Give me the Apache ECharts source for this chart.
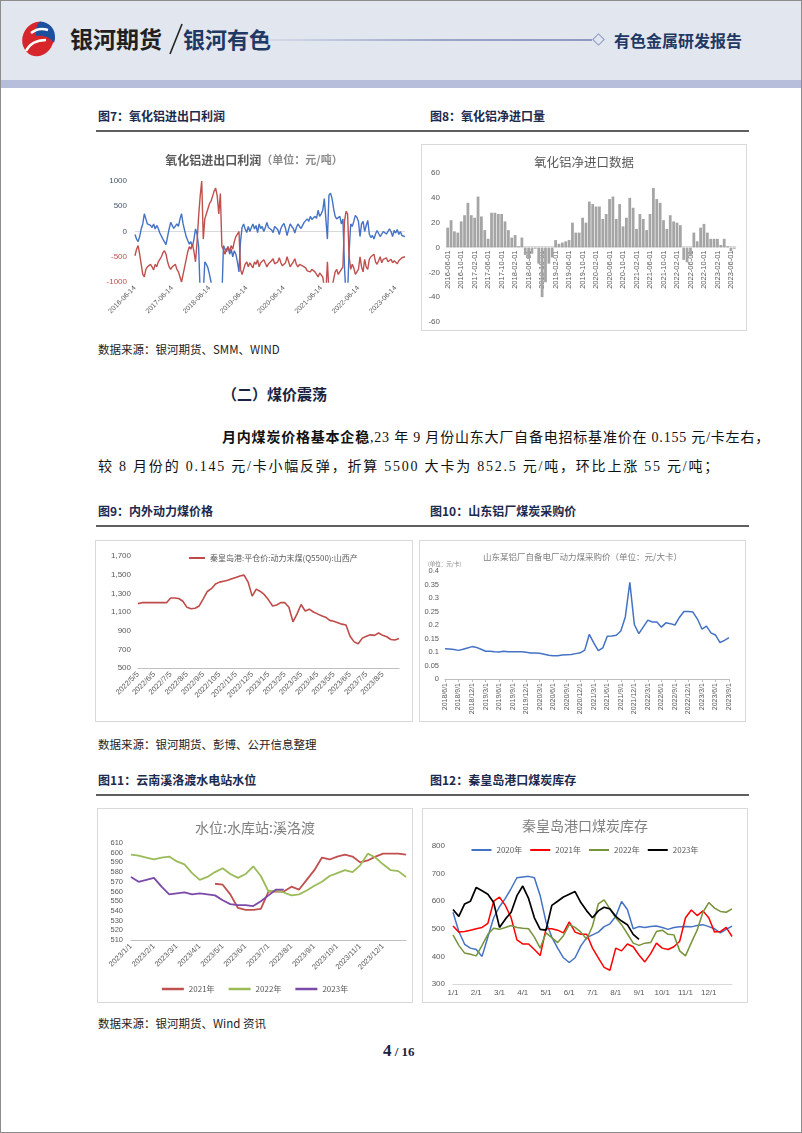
<!DOCTYPE html>
<html><head><meta charset="utf-8">
<script src="https://cdn.jsdelivr.net/npm/echarts@6/dist/echarts.min.js"></script>
<style>
html,body{margin:0;padding:0;background:#fff;}
#page{position:relative;width:802px;height:1133px;overflow:hidden;font-family:"Noto Sans CJK SC","Noto Sans",sans-serif;background:#fff;}
.abs{position:absolute;white-space:nowrap;}
.figt{font-size:12px;font-weight:bold;color:#1c2a4d;line-height:14px;}
.rule{position:absolute;left:96px;width:653px;height:2px;background:#5f5f5f;}
.src{font-size:11.5px;color:#222;line-height:14px;}
.ch{position:absolute;box-sizing:border-box;}
.bx{border:1px solid #d9d9d9;}
.para{font-family:"Liberation Serif","Noto Sans CJK SC",serif;font-size:14px;color:#111;line-height:18px;}
</style></head>
<body>
<div id="page">
  <!-- header -->
  <div class="abs" style="left:0;top:0;width:802px;height:80px;background:#e2e6ef;"></div>
  <div class="abs" style="left:0;top:80px;width:802px;height:8px;background:#b7bedc;"></div>
  <svg class="abs" style="left:18px;top:19px;" width="40" height="40" viewBox="0 0 40 40">
    <ellipse cx="20" cy="20" rx="15.5" ry="17.5" transform="rotate(22 20 20)" fill="#d6262b"/>
    <path d="M22 2.6 C31 3 38 10 37 20 L36 24 C32 18 26 16 18 17 C17 11 18.5 6 22 2.6 Z" fill="#1d4f9f"/>
    <path d="M8 32 C12 24 19 21 28 21 M13 14 C18 10 24 9 30 11" stroke="#fff" stroke-width="2.4" fill="none"/>
  </svg>
  <div class="abs" style="left:70px;top:22px;font-size:23px;font-weight:bold;color:#231f20;line-height:32px;">银河期货</div>
  <svg class="abs" style="left:168px;top:22px;" width="16" height="34"><line x1="2" y1="32" x2="14" y2="2" stroke="#222" stroke-width="1.6"/></svg>
  <div class="abs" style="left:183px;top:22px;font-size:22px;font-weight:bold;color:#1f3864;line-height:32px;">银河有色</div>
  <div class="abs" style="left:230px;top:39px;width:362px;height:2px;background:linear-gradient(90deg,rgba(150,160,200,0),#9aa4c9 60%,#8f99c2);"></div>
  <div class="abs" style="left:594px;top:35px;width:7px;height:7px;border:1px solid #8d97c0;transform:rotate(45deg);background:#e2e6ef;"></div>
  <div class="abs" style="left:614px;top:29px;font-size:16px;font-weight:bold;color:#1f3864;line-height:22px;">有色金属研发报告</div>

  <!-- row 1 -->
  <div class="abs figt" style="left:98px;top:109px;">图7：氧化铝进出口利润</div>
  <div class="abs figt" style="left:430px;top:109px;">图8：氧化铝净进口量</div>
  <div class="rule" style="top:130px;"></div>
  <div id="c7" class="ch" style="left:95px;top:140px;width:318px;height:200px;"></div>
  <div id="c8" class="ch bx" style="left:421px;top:144px;width:326px;height:187px;"></div>
  <div class="abs src" style="left:98px;top:342px;">数据来源：银河期货、SMM、WIND</div>

  <div class="abs" style="left:222px;top:384px;font-size:15px;font-weight:bold;color:#1a2340;line-height:20px;">（二）煤价震荡</div>
  <div class="abs para" data-w="548" style="left:222px;top:429px;"><b>月内煤炭价格基本企稳</b>,23 年 9 月份山东大厂自备电招标基准价在 0.155 元/卡左右，</div>
  <div class="abs para" data-w="622" style="left:98px;top:458px;">较 8 月份的 0.145 元/卡小幅反弹，折算 5500 大卡为 852.5 元/吨，环比上涨 55 元/吨；</div>

  <!-- row 2 -->
  <div class="abs figt" style="left:98px;top:504px;">图9：内外动力煤价格</div>
  <div class="abs figt" style="left:430px;top:504px;">图10：山东铝厂煤炭采购价</div>
  <div class="rule" style="top:525px;"></div>
  <div id="c9" class="ch bx" style="left:95px;top:540px;width:318px;height:182px;"></div>
  <div id="c10" class="ch bx" style="left:419px;top:540px;width:327px;height:182px;"></div>
  <div class="abs src" style="left:98px;top:737px;">数据来源：银河期货、彭博、公开信息整理</div>

  <!-- row 3 -->
  <div class="abs figt" style="left:98px;top:773px;">图11：云南溪洛渡水电站水位</div>
  <div class="abs figt" style="left:430px;top:773px;">图12：秦皇岛港口煤炭库存</div>
  <div class="rule" style="top:794px;"></div>
  <div id="c11" class="ch bx" style="left:97px;top:808px;width:316px;height:195px;"></div>
  <div id="c12" class="ch bx" style="left:422px;top:808px;width:326px;height:195px;"></div>
  <div class="abs src" style="left:98px;top:1016px;">数据来源：银河期货、Wind 资讯</div>

  <div class="abs" style="left:383px;top:1041px;font-family:'Liberation Serif',serif;font-weight:bold;color:#1a2340;line-height:20px;"><span style="font-size:17px;">4</span><span style="font-size:13px;"> / 16</span></div>
  <div class="abs" style="left:0;top:0;width:802px;height:1133px;box-sizing:border-box;border:1px solid #8c8c8c;pointer-events:none;"></div>
</div>
<script>
// ---------- DATA ----------
// Fig 7: alumina import/export profit, semi-monthly from 2016-06-14
const c7Blue = [
 -60,
 -150,-200, -100,50, 150,350, 250,150, 180,120, 80,150,
 50,120, 60,-30, -50,-150, -120,-260, -100,50, 180,120, 60,30, 150,100, 250,350, 150,20, -100,-180, -250,-200,
 -300,-150, 50,-50, -300,-1200, -1300,-1200, -600,-650, -720,-850, -1000,-1300, -1300,-1300, -1300,-1300, -1300,-1300, -280,-350, -400,-300,
 -450,-350, -500,-380, -450,-600, -800,-200, 80,150, 50,-20, 100,0, 80,150, 50,120, -20,150, 60,100, 0,80,
 180,80, 100,30, -20,100, 120,40, -60,60, 120,160, 60,-80, 40,150, 100,60, -30,80, 150,100, 60,120,
 180,150, 250,200, 300,240, 220,300, 260,420, 300,350, 420,650, 680,-150, 720,760, 650,450, 300,250, 220,300,
 150,250, -700,-1300, -1200,-400, 150,100, 200,320, 280,200, -100,150, 200,0, 120,220, -50,-120, -80,-150, -50,20,
 0,-100, -80,0, 30,-50, -80,50, 0,-100, 20,-30, 40,-60, 0,-80, -60,-100
];
const c7Red = [
 -480,
 -350,-280, -450,-650, -850,-900, -750,-700, -720,-650, -700,-760,
 -650,-700, -600,-550, -500,-420, -380,-450, -600,-700, -750,-700, -680,-650, -750,-800, -900,-1000, -850,-700, -550,-400, -300,-350,
 -250,-400, -600,-200, 300,700, 1000,-150, 250,350, 450,550, 600,700, 800,860, 700,350, 750,-300, -350,-450, -350,-300,
 -400,-280, -350,-200, -100,-50, 0,-750, -850,-750, -650,-600, -700,-620, -650,-720, -600,-650, -560,-700, -620,-650, -560,-630,
 -700,-640, -620,-580, -540,-640, -660,-600, -520,-620, -680,-700, -620,-500, -600,-700, -650,-600, -540,-650, -700,-650, -620,-680,
 -700,-720, -780,-760, -800,-750, -720,-800, -780,-900, -820,-850, -900,-1100, -1200,-600, -1200,-1200, -1100,-950, -800,-750, -850,-800,
 -750,-700, 200,400, 350,-500, -750,-650, -720,-850, -800,-750, -500,-700, -800,-550, -700,-750, -550,-500, -520,-450, -600,-650,
 -580,-500, -620,-550, -580,-520, -600,-620, -550,-620, -580,-560, -640,-580, -560,-520, -520,-500
];
const c7Ticks = [-1000, -500, 0, 500, 1000];

// Fig 8: alumina net imports, monthly 2016-06 .. 2023-07
const c8Values = [
 16,22,13,12,21,26,36,
 26,24,41,25,14,7,28,28,27,27,21,14,
 8,10,1,8,-6,-9,-5,-1,-13,-40,-28,-13,
 -8,6,3,4,5,6,20,12,12,24,20,37,
 35,33,33,23,27,39,41,23,35,17,24,40,
 32,15,27,23,14,27,48,39,36,22,15,26,
 21,20,18,-10,-12,-7,12,5,16,19,12,7,
 7,7,2,7,1,-3,-1
];

// Fig 9: Qinhuangdao Q5500 price, weekly from 2022/5/5
const c9Values = [
 1190,1200,1200,1200, 1200,1200,1200,1200, 1250,1250,1245,1215, 1150,1135,1140,1165,
 1240,1320,1350,1400, 1420,1430,1440,1455, 1470,1485,1495,1420, 1270,1345,1320,1285,
 1230,1165,1175,1200, 1200,1150,995,1080, 1180,1110,1130,1100, 1080,1060,1045,1010,
 1000,985,970,960, 840,780,760,820, 840,855,850,875, 850,835,805,800, 815
];

// Fig 10: Shandong smelter coal price (元/大卡), monthly 2018/6 .. 2023/9
const c10Values = [
 0.112,0.111,0.109,0.106,0.110,0.115,0.120,
 0.117,0.110,0.103,0.103,0.101,0.100,0.103,0.101,0.101,0.101,0.101,0.099,
 0.096,0.096,0.095,0.092,0.088,0.086,0.086,0.089,0.090,0.091,0.094,0.097,
 0.107,0.165,0.134,0.105,0.115,0.158,0.159,0.162,0.178,0.230,0.358,0.202,
 0.168,0.193,0.218,0.211,0.211,0.192,0.208,0.205,0.200,0.228,0.250,0.250,
 0.248,0.222,0.185,0.196,0.171,0.163,0.135,0.143,0.153
];

// Fig 11: Xiluodu water level, every ~10 days (1st, 11th, 21st) + year end
const c11Y2021 = [null,null,null,null,null,null,null,null,null,null,null,
 568,567,557,543,541,541,542,560,560,560,565,562,572,582,595,593,596,598,596,590,592,596,599,599,599,598];
const c11Y2022 = [598,597,595,593,595,596,591,588,579,572,575,580,584,578,574,578,586,576,560,561,559,556,557,561,566,570,576,579,582,580,587,599,595,588,582,581,575];
const c11Y2023 = [575,570,572,574,565,557,558,559,557,558,557,556,551,547,546,546,545,550,556,562,562,
 null,null,null,null,null,null,null,null,null,null,null,null,null,null,null,null];

// Fig 12: Qinhuangdao port coal stocks, 4 points per month + year end
const c12Y2020 = [560,490,444,430,425,400,470,540,580,610, 646,685,688,690,685,620,525,470,430,395,
 378,395,438,468,478,488,508,518,545,599, 570,500,508,505,508,510,505,498,505,507, 508,507,512,515,508,500,485,498,510];
const c12Y2021 = [510,488,490,495,500,505,520,600,615,585, 540,460,445,445,425,403,500,500,495,485,
 525,488,480,480,430,395,360,350,430,420, 445,435,405,380,410,448,430,425,435,455, 540,568,548,565,540,488,490,505,472];
const c12Y2022 = [478,440,412,408,402,440,480,502,498,505, 512,505,502,500,470,430,485,468,450,475,
 515,505,488,462,510,590,605,572,540,515, 482,448,440,448,450,490,495,480,478,420, 402,450,495,560,595,575,563,560,572];
const c12Y2023 = [570,545,590,600,650,638,625,595,505,535, 560,620,655,610,540,498,495,585,600,615,
 625,635,595,565,540,565,578,572,545,528, 515,480,462, null,null,null,null,null,null,null,null,null,null,null,null,null,null,null,null];

// ---------- categories ----------
function c7Categories(){ const d=['2016-06-14']; let y=2016,m=7; while(!(y===2023&&m===10)){ const mm=String(m).padStart(2,'0'); d.push(y+'-'+mm+'-01', y+'-'+mm+'-14'); m++; if(m>12){m=1;y++;} } return d; }
function monthly(y0,m0,y1,m1,fmt){ const d=[]; let y=y0,m=m0; while(y<y1||(y===y1&&m<=m1)){ d.push(fmt(y,m)); m++; if(m>12){m=1;y++;} } return d; }
const c7Dates = c7Categories();
const c8Months = monthly(2016,6,2023,7,(y,m)=>y+'-'+String(m).padStart(2,'0')+'-01');
const c9Dates = (function(){ const d=[]; monthly(2022,5,2023,8,(y,m)=>y+'/'+m).forEach(p=>{[5,12,19,26].forEach(dd=>d.push(p+'/'+dd));}); d.push('2023/9/5'); return d; })();
const c10Months = monthly(2018,6,2023,9,(y,m)=>y+'/'+m+'/1');
const c11Dates = (function(){ const d=[]; for(let m=1;m<=12;m++){[1,11,21].forEach(dd=>d.push('2023/'+m+'/'+dd));} d.push('2023/12/31'); return d; })();
const c12Dates = (function(){ const d=[]; for(let m=1;m<=12;m++){[1,8,16,23].forEach(dd=>d.push(m+'/'+dd));} d.push('12/31'); return d; })();

// ---------- paragraph fitting ----------
document.querySelectorAll('.para').forEach(el=>{
  const target = +el.dataset.w;
  const w = el.getBoundingClientRect().width;
  const n = el.textContent.length;
  el.style.letterSpacing = ((target - w) / n).toFixed(3) + 'px';
});

// ---------- charts ----------
const NUM = "'Liberation Sans','Noto Sans CJK SC',sans-serif";
const CJK = "'Noto Sans CJK SC',sans-serif";
const GRAY = '#595959';
function mk(id, opt){ const c = echarts.init(document.getElementById(id), null, {renderer:'canvas'}); opt.animation=false; opt.grid.outerBoundsMode='none'; c.setOption(opt); }
function lineS(name, data, color, w){ return {name:name,type:'line',data:data,showSymbol:false,symbol:'none',lineStyle:{color:color,width:w},itemStyle:{color:color},connectNulls:false}; }

mk('c7', {
  title:{text:'{a|氧化铝进出口利润}{b|（单位：元/吨）}',left:'center',top:9,textStyle:{rich:{a:{fontSize:12,color:GRAY,fontFamily:CJK},b:{fontSize:11,color:'#8c8c8c',fontFamily:CJK}}}},
  grid:{left:40,right:8,top:41,bottom:58},
  xAxis:{type:'category',data:c7Dates,boundaryGap:false,axisLine:{show:false},axisTick:{show:false},
    axisLabel:{rotate:45,fontSize:7,color:GRAY,fontFamily:NUM,margin:5,interval:(i,v)=>v.slice(5)==='06-14'}},
  yAxis:{type:'value',min:c7Ticks[0],max:c7Ticks[c7Ticks.length-1],interval:500,axisLine:{show:false},axisTick:{show:false},
    splitLine:{show:true,lineStyle:{color:['rgba(0,0,0,0)','rgba(0,0,0,0)','#d9d9d9','rgba(0,0,0,0)','rgba(0,0,0,0)'],width:1.2}},
    axisLabel:{fontSize:8,fontFamily:NUM,margin:8,formatter:(v)=>String(v),color:(v)=>(Number(v)<0?'#c0504d':'#44546a')}},
  series:[lineS('出口',c7Blue,'#4472c4',1.4), lineS('进口',c7Red,'#c0504d',1.4)]
});

// grid height 151, zero line in the middle -> axis moved up by half the grid height
mk('c8', {
  title:{text:'氧化铝净进口数据',left:'center',top:6,textStyle:{fontSize:12.5,color:GRAY,fontFamily:CJK,fontWeight:'normal'}},
  grid:{left:24,right:10,top:28,bottom:8},
  xAxis:{type:'category',data:c8Months,position:'bottom',offset:-75.5,axisLine:{onZero:false,lineStyle:{color:'#d9d9d9'}},axisTick:{show:false},
    axisLabel:{rotate:90,interval:3,fontSize:7.5,color:GRAY,fontFamily:NUM,margin:4}},
  yAxis:{type:'value',min:-60,max:60,interval:20,axisLine:{show:false},axisTick:{show:false},splitLine:{show:false},
    axisLabel:{fontSize:8,color:GRAY,fontFamily:NUM,margin:6}},
  series:[{type:'bar',data:c8Values,itemStyle:{color:'#a5a5a5'},barCategoryGap:'18%'}]
});

mk('c9', {
  legend:{top:8,left:88,icon:'rect',itemWidth:16,itemHeight:2,itemGap:4,textStyle:{fontSize:8,color:GRAY,fontFamily:CJK},data:['秦皇岛港:平仓价:动力末煤(Q5500):山西产']},
  grid:{left:42,right:13,top:15,bottom:53},
  xAxis:{type:'category',data:c9Dates,boundaryGap:false,axisLine:{lineStyle:{color:'#bfbfbf'}},axisTick:{show:false},
    axisLabel:{rotate:45,fontSize:7.5,color:GRAY,fontFamily:NUM,margin:5,interval:(i)=>i%4===0&&i<64}},
  yAxis:{type:'value',min:500,max:1700,interval:200,axisLine:{show:false},axisTick:{show:false},splitLine:{show:false},
    axisLabel:{fontSize:8,color:GRAY,fontFamily:NUM,margin:7,formatter:(v)=>v.toLocaleString('en-US')}},
  series:[lineS('秦皇岛港:平仓价:动力末煤(Q5500):山西产',c9Values,'#be4b48',1.6)]
});

mk('c10', {
  title:{text:'山东某铝厂自备电厂动力煤采购价（单位：元/大卡）',left:'center',top:7,textStyle:{fontSize:8.5,color:'#7f7f7f',fontFamily:CJK,fontWeight:'normal'}},
  graphic:[{type:'text',left:8,top:20,style:{text:'(单位：元/卡)',fontSize:5.5,fill:'#7f7f7f',fontFamily:CJK}}],
  grid:{left:25,right:16,top:30,bottom:42},
  xAxis:{type:'category',data:c10Months,boundaryGap:false,axisLine:{lineStyle:{color:'#bfbfbf'}},axisTick:{show:true,interval:2,length:3,lineStyle:{color:'#bfbfbf'}},
    axisLabel:{rotate:90,interval:2,fontSize:7,color:GRAY,fontFamily:NUM,margin:4}},
  yAxis:{type:'value',min:0,max:0.4,interval:0.05,axisLine:{show:false},axisTick:{show:false},splitLine:{show:false},
    axisLabel:{fontSize:7.5,color:GRAY,fontFamily:NUM,margin:6,formatter:(v)=>String(Math.round(v*100)/100)}},
  series:[lineS('采购价',c10Values,'#4472c4',1.5)]
});

mk('c11', {
  title:{text:'水位:水库站:溪洛渡',left:'center',top:7,textStyle:{fontSize:14,color:'#7f7f7f',fontFamily:CJK,fontWeight:'normal'}},
  legend:{bottom:4,left:'center',icon:'rect',itemWidth:22,itemHeight:2.5,itemGap:14,textStyle:{fontSize:8,color:GRAY,fontFamily:CJK},data:['2021年','2022年','2023年']},
  grid:{left:33,right:6,top:34,bottom:62},
  xAxis:{type:'category',data:c11Dates,boundaryGap:false,axisLine:{lineStyle:{color:'#bfbfbf'}},axisTick:{show:false},
    axisLabel:{rotate:45,fontSize:7.5,color:GRAY,fontFamily:NUM,margin:5,interval:(i,v)=>/\/1$/.test(v)}},
  yAxis:{type:'value',min:510,max:610,interval:10,axisLine:{show:false},axisTick:{show:false},splitLine:{show:false},
    axisLabel:{fontSize:7.5,color:GRAY,fontFamily:NUM,margin:8}},
  series:[lineS('2021年',c11Y2021,'#c0504d',1.8), lineS('2022年',c11Y2022,'#9bbb59',1.8), lineS('2023年',c11Y2023,'#7b4aa8',1.8)]
});

mk('c12', {
  title:{text:'秦皇岛港口煤炭库存',left:'center',top:5,textStyle:{fontSize:14,color:'#7f7f7f',fontFamily:CJK,fontWeight:'normal'}},
  legend:{top:32,left:'center',icon:'rect',itemWidth:20,itemHeight:2,itemGap:8,textStyle:{fontSize:8,color:GRAY,fontFamily:CJK},data:['2020年','2021年','2022年','2023年']},
  grid:{left:30,right:15,top:37,bottom:18},
  xAxis:{type:'category',data:c12Dates,boundaryGap:false,axisLine:{lineStyle:{color:'#d9d9d9'}},axisTick:{show:false},
    axisLabel:{fontSize:8,color:GRAY,fontFamily:NUM,margin:5,interval:(i,v)=>/\/1$/.test(v)}},
  yAxis:{type:'value',min:300,max:800,interval:100,axisLine:{show:false},axisTick:{show:false},splitLine:{show:false},
    axisLabel:{fontSize:8,color:GRAY,fontFamily:NUM,margin:8}},
  series:[lineS('2020年',c12Y2020,'#4472c4',1.5), lineS('2021年',c12Y2021,'#ff0000',1.5), lineS('2022年',c12Y2022,'#77933c',1.5), lineS('2023年',c12Y2023,'#000000',1.7)]
});
</script>
</body></html>
